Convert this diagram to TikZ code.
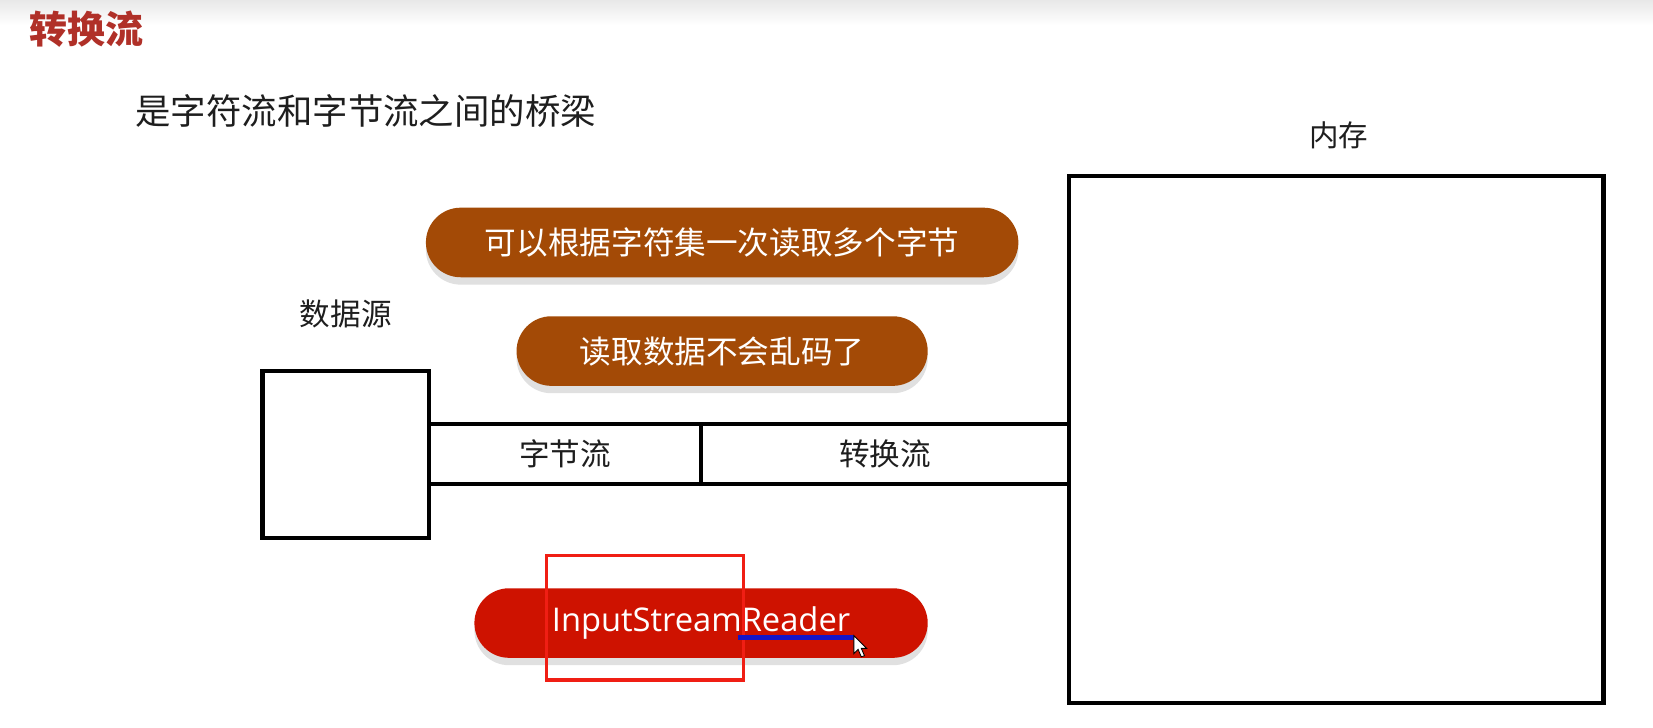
\documentclass[tikz,border=0pt]{standalone}
\usepackage{fontspec}
\setmainfont{Noto Sans CJK SC}
\newfontfamily\latinf{Open Sans}
\usetikzlibrary{shadows}
\definecolor{titlered}{RGB}{176,48,40}
\definecolor{pillbrown}{RGB}{163,74,6}
\definecolor{pillred}{RGB}{206,18,0}
\definecolor{annred}{RGB}{240,30,20}
\definecolor{annblue}{RGB}{20,20,200}
\definecolor{txt}{RGB}{30,30,30}
\tikzset{
  pill/.style={rounded corners=16.5pt, minimum height=33pt, inner sep=0pt, text=white,
    font=\fontsize{15}{18}\selectfont,
    drop shadow={shadow xshift=0pt, shadow yshift=-3.5pt, fill=black!12, opacity=1}},
  blk/.style={draw=black, line width=2pt, inner sep=0pt, text=txt, font=\fontsize{14.5}{17}\selectfont},
  lbl/.style={text=txt, font=\fontsize{14.5}{17}\selectfont, inner sep=0pt},
}
\begin{document}
\begin{tikzpicture}[x=0.5pt,y=-0.5pt]
\useasboundingbox (0,0) rectangle (1568,690);
\fill[white] (0,0) rectangle (1568,690);
\shade[top color=black!9, bottom color=white] (0,0) rectangle (1568,24);
% titles
\node[text=titlered, font=\fontsize{18}{22}\selectfont\bfseries, inner sep=0pt] (title) at (82,28) {转换流};
\node[text=txt, font=\fontsize{16.8}{20}\selectfont, inner sep=0pt] (sub) at (347,105) {是字符流和字节流之间的桥梁};
% memory box
\node[blk, minimum width=253.5pt, minimum height=250pt] (mem) at (1267.5,417) {};
\node[lbl, font=\fontsize{14}{17}\selectfont] (memlbl) at (1270,128) {内存};
% source box
\node[blk, minimum width=79pt, minimum height=79pt] (src) at (328,431) {};
\node[lbl] (srclbl) at (328,298) {数据源};
% stream band
\node[blk, minimum width=129pt, minimum height=28.5pt] (byte) at (536,430.5) {字节流};
\node[blk, minimum width=174.5pt, minimum height=28.5pt] (conv) at (839.5,430.5) {转换流};
% pills
\node[pill, fill=pillbrown, minimum width=281pt] (p1) at (685,230) {可以根据字符集一次读取多个字节};
\node[pill, fill=pillbrown, minimum width=195pt] (p2) at (685,333) {读取数据不会乱码了};
\node[pill, fill=pillred, minimum width=215pt, font=\latinf\fontsize{15.5}{18}\selectfont] (p3) at (665,591) {InputStreamReader};
% annotations
\node[draw=annred, line width=1.5pt, minimum width=93.5pt, minimum height=59pt, inner sep=0pt] (ann) at (611.5,586) {};
\coordinate (ua) at (700,605);
\coordinate (ub) at (810,605);
\draw[annblue, line width=2.2pt] (ua) -- (ub);
% cursor
\coordinate (cur) at (810,603);
\draw[fill=white, draw=black, line width=0.4pt, shift={(cur)}] (0,0) -- (0,17) -- (4,13) -- (7,20) -- (10,19) -- (7,12) -- (12,12) -- cycle;
\end{tikzpicture}
\end{document}
